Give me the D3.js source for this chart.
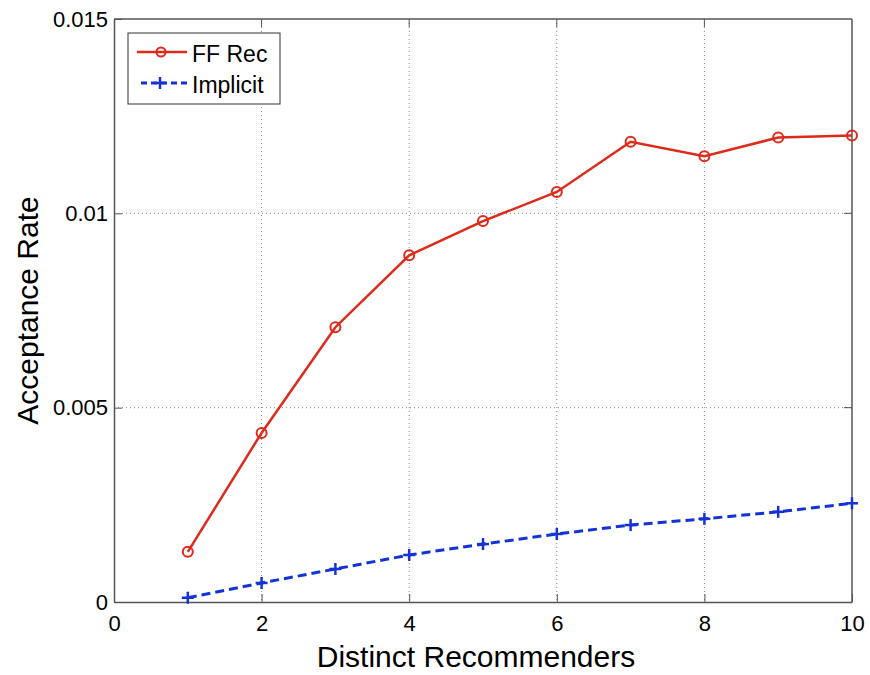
<!DOCTYPE html>
<html>
<head>
<meta charset="utf-8">
<script src="https://cdn.jsdelivr.net/npm/d3@7"></script>
<style>
  body { margin: 0; background: #fff; }
  svg { font-family: "Liberation Sans", Arial, sans-serif; }
</style>
</head>
<body>
<svg id="chart" width="870" height="675"></svg>
<script>
// data
var recommenders = [1, 2, 3, 4, 5, 6, 7, 8, 9, 10];
var ffRec = [0.00129, 0.00435, 0.00707, 0.00892, 0.0098, 0.01055, 0.01184, 0.01147, 0.01195, 0.0120];
var implicit = [0.00011, 0.00049, 0.00085, 0.00121, 0.00149, 0.00175, 0.00198, 0.00214, 0.00232, 0.00254];
var xTicks = [0, 2, 4, 6, 8, 10];
var yTicks = [0, 0.005, 0.01, 0.015];
var yTickLabels = ["0", "0.005", "0.01", "0.015"];

var svg = d3.select("#chart");
var pLeft = 114, pRight = 852, pTop = 19, pBottom = 602;

var x = d3.scaleLinear().domain([0, 10]).range([pLeft, pRight]);
var y = d3.scaleLinear().domain([0, 0.015]).range([pBottom, pTop]);

// grid
var grid = svg.append("g");
grid.selectAll(".vg").data(xTicks.slice(1, -1)).enter().append("line")
  .attr("x1", function(d) { return x(d); }).attr("x2", function(d) { return x(d); })
  .attr("y1", pTop).attr("y2", pBottom)
  .attr("stroke", "#888").attr("stroke-width", 1).attr("stroke-dasharray", "1,3");
grid.selectAll(".hg").data(yTicks.slice(1, -1)).enter().append("line")
  .attr("x1", pLeft).attr("x2", pRight)
  .attr("y1", function(d) { return y(d); }).attr("y2", function(d) { return y(d); })
  .attr("stroke", "#888").attr("stroke-width", 1).attr("stroke-dasharray", "1,3");

// axes with inward ticks
var xAxis = d3.axisBottom(x).tickValues(xTicks).tickSizeInner(-8).tickSizeOuter(0).tickPadding(13);
var yAxis = d3.axisLeft(y).tickValues(yTicks).tickSizeInner(-8).tickSizeOuter(0).tickPadding(6)
  .tickFormat(function(d, i) { return yTickLabels[i]; });

var gx = svg.append("g").attr("transform", "translate(0," + pBottom + ")").call(xAxis);
var gy = svg.append("g").attr("transform", "translate(" + pLeft + ",0)").call(yAxis);
[gx, gy].forEach(function(g) {
  g.attr("font-size", null).attr("font-family", null);
  g.select(".domain").attr("stroke", "#555").attr("stroke-width", 1.5);
  g.selectAll(".tick line").attr("stroke", "#555");
  g.selectAll("text").attr("fill", "#000")
    .style("font-size", "22px").style("font-family", "'Liberation Sans', Arial, sans-serif");
});

// top and right frame
svg.append("line").attr("x1", pLeft).attr("x2", pRight).attr("y1", pTop).attr("y2", pTop)
  .attr("stroke", "#555").attr("stroke-width", 1.5);
svg.append("line").attr("x1", pRight).attr("x2", pRight).attr("y1", pTop).attr("y2", pBottom)
  .attr("stroke", "#555").attr("stroke-width", 1.5);
// inward ticks on the top and right edges
svg.selectAll(".tt").data(xTicks.slice(1, -1)).enter().append("line")
  .attr("x1", function(d) { return x(d); }).attr("x2", function(d) { return x(d); })
  .attr("y1", pTop).attr("y2", pTop + 8).attr("stroke", "#555");
svg.selectAll(".rt").data(yTicks.slice(1, -1)).enter().append("line")
  .attr("x1", pRight).attr("x2", pRight - 8)
  .attr("y1", function(d) { return y(d); }).attr("y2", function(d) { return y(d); }).attr("stroke", "#555");

// axis labels
svg.append("text").attr("x", (pLeft + pRight) / 2 - 7).attr("y", 667)
  .attr("text-anchor", "middle").attr("font-size", 30).text("Distinct Recommenders");
svg.append("text").attr("transform", "translate(38," + ((pTop + pBottom) / 2) + ") rotate(-90)")
  .attr("text-anchor", "middle").attr("font-size", 30).text("Acceptance Rate");

var red = "#dd2a1b", blue = "#1433d6";

var line = d3.line().x(function(d) { return x(d[0]); }).y(function(d) { return y(d[1]); });
var ffData = recommenders.map(function(r, i) { return [r, ffRec[i]]; });
var imData = recommenders.map(function(r, i) { return [r, implicit[i]]; });

svg.append("path").datum(ffData).attr("d", line)
  .attr("fill", "none").attr("stroke", red).attr("stroke-width", 2.5);
svg.selectAll(".ffm").data(ffData).enter().append("circle")
  .attr("cx", function(d) { return x(d[0]); }).attr("cy", function(d) { return y(d[1]); })
  .attr("r", 5).attr("fill", "none").attr("stroke", red).attr("stroke-width", 2);

svg.append("path").datum(imData).attr("d", line)
  .attr("fill", "none").attr("stroke", blue).attr("stroke-width", 3).attr("stroke-dasharray", "9,5");
function plus(g, cx, cy, s, col) {
  g.append("line").attr("x1", cx - s).attr("x2", cx + s).attr("y1", cy).attr("y2", cy)
    .attr("stroke", col).attr("stroke-width", 2.5);
  g.append("line").attr("x1", cx).attr("x2", cx).attr("y1", cy - s).attr("y2", cy + s)
    .attr("stroke", col).attr("stroke-width", 2.5);
}
var marks = svg.append("g");
imData.forEach(function(d) { plus(marks, x(d[0]), y(d[1]), 6, blue); });

// legend
var lg = svg.append("g");
lg.append("rect").attr("x", 128).attr("y", 33).attr("width", 152).attr("height", 71)
  .attr("fill", "#fff").attr("stroke", "#333").attr("stroke-width", 1);
lg.append("line").attr("x1", 137).attr("x2", 187).attr("y1", 52).attr("y2", 52)
  .attr("stroke", red).attr("stroke-width", 2.5);
lg.append("circle").attr("cx", 161).attr("cy", 52).attr("r", 4.5)
  .attr("fill", "none").attr("stroke", red).attr("stroke-width", 2);
lg.append("text").attr("x", 192).attr("y", 61.5).attr("font-size", 23).text("FF Rec");
lg.append("line").attr("x1", 141).attr("x2", 187).attr("y1", 83).attr("y2", 83)
  .attr("stroke", blue).attr("stroke-width", 3).attr("stroke-dasharray", "6,4");
plus(lg, 160, 83, 6, blue);
lg.append("text").attr("x", 192).attr("y", 93).attr("font-size", 23).text("Implicit");
</script>
</body>
</html>
